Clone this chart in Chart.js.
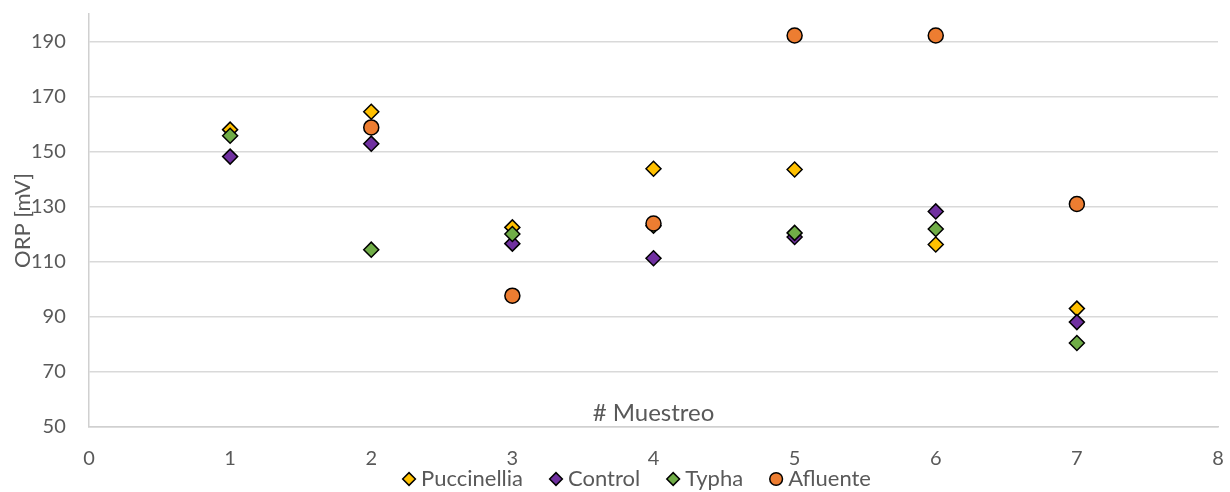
<!DOCTYPE html>
<html>
<head>
<meta charset="utf-8">
<script src="https://cdn.jsdelivr.net/npm/chart.js@4/dist/chart.umd.min.js"></script>
<style>
  html, body { margin: 0; padding: 0; background: #ffffff; }
  #wrap { width: 1230px; height: 492px; }
</style>
</head>
<body>
<div id="wrap"><canvas id="c"></canvas></div>
<script>
// ORP per sampling round, one array per series
const muestreo    = [1, 2, 3, 4, 5, 6, 7];
const puccinellia = [158.0, 164.5, 122.5, 143.8, 143.5, 116.3, 93.0];
const control     = [148.2, 152.9, 116.6, 111.3, 119.0, 128.3, 88.1];
const typha       = [155.8, 114.4, 120.1, 123.1, 120.5, 121.9, 80.5];
const afluente    = [null, 158.8, 97.7, 123.9, 192.2, 192.2, 131.0];

const yTicks = [50, 70, 90, 110, 130, 150, 170, 190];
const xTicks = [0, 1, 2, 3, 4, 5, 6, 7, 8];
const yTitle = 'ORP [mV]';
const xTitle = '# Muestreo';

const FONT = "Lato, 'Open Sans', sans-serif";
const TEXT = '#595959';

Chart.defaults.font.family = FONT;
Chart.defaults.font.size = 20;
Chart.defaults.color = TEXT;

const toPoints = vals => muestreo
  .map((m, i) => ({ x: m, y: vals[i] }))
  .filter(p => p.y !== null);

function series(label, vals, color, style, order) {
  return {
    label,
    data: toPoints(vals),
    pointStyle: style,
    backgroundColor: color,
    borderColor: '#000000',
    borderWidth: 1.5,
    pointRadius: 7.5,
    showLine: false,
    order
  };
}

// axis titles: y rotated at the left edge, x title sitting just inside the plot
const axisTitles = {
  id: 'axisTitles',
  afterDraw(chart) {
    const { ctx, chartArea: a } = chart;
    ctx.save();
    ctx.fillStyle = TEXT;
    ctx.textAlign = 'center';
    ctx.textBaseline = 'alphabetic';
    ctx.font = '24px ' + FONT;
    ctx.fillText(xTitle, (a.left + a.right) / 2, a.bottom - 6);
    ctx.font = '22px ' + FONT;
    ctx.translate(30, (a.top + a.bottom) / 2);
    ctx.rotate(-Math.PI / 2);
    ctx.fillText(yTitle, 0, 0);
    ctx.restore();
  }
};

new Chart(document.getElementById('c'), {
  type: 'scatter',
  data: {
    datasets: [
      series('Puccinellia', puccinellia, '#FFC000', 'rectRot', 3),
      series('Control', control, '#7030A0', 'rectRot', 2),
      series('Typha', typha, '#70AD47', 'rectRot', 1),
      series('Afluente', afluente, '#ED7D31', 'circle', 0)
    ]
  },
  options: {
    responsive: true,
    maintainAspectRatio: false,
    animation: false,
    events: [],
    layout: { padding: { left: 49, right: 0, top: 14, bottom: 0 } },
    plugins: {
      legend: {
        position: 'bottom',
        maxHeight: 56,
        labels: {
          usePointStyle: true,
          boxWidth: 2,
          boxHeight: 9,
          padding: 32,
          color: TEXT,
          font: { size: 22 },
          sort: (a, b) => a.datasetIndex - b.datasetIndex
        }
      },
      tooltip: { enabled: false }
    },
    scales: {
      x: {
        type: 'linear',
        min: 0,
        max: 8,
        afterBuildTicks: s => { s.ticks = xTicks.map(v => ({ value: v })); },
        afterFit: s => {
          s.height = 9;
          s.paddingLeft = 0;
          s.paddingRight = 12;
        },
        grid: { display: false, drawTicks: false },
        border: { display: true, color: '#D0D0D0', width: 1.5 },
        ticks: { mirror: true, padding: -44 }
      },
      y: {
        min: 50,
        max: 200,
        afterBuildTicks: s => { s.ticks = yTicks.map(v => ({ value: v })); },
        afterFit: s => {
          s.width = 40;
          s.paddingTop = 0;
          s.paddingBottom = 0;
        },
        grid: { color: '#D9D9D9', lineWidth: 1.5, drawTicks: false },
        border: { display: true, color: '#D0D0D0', width: 1.5 },
        ticks: { mirror: true, crossAlign: 'far', padding: -58 }
      }
    }
  },
  plugins: [axisTitles]
});
</script>
</body>
</html>
